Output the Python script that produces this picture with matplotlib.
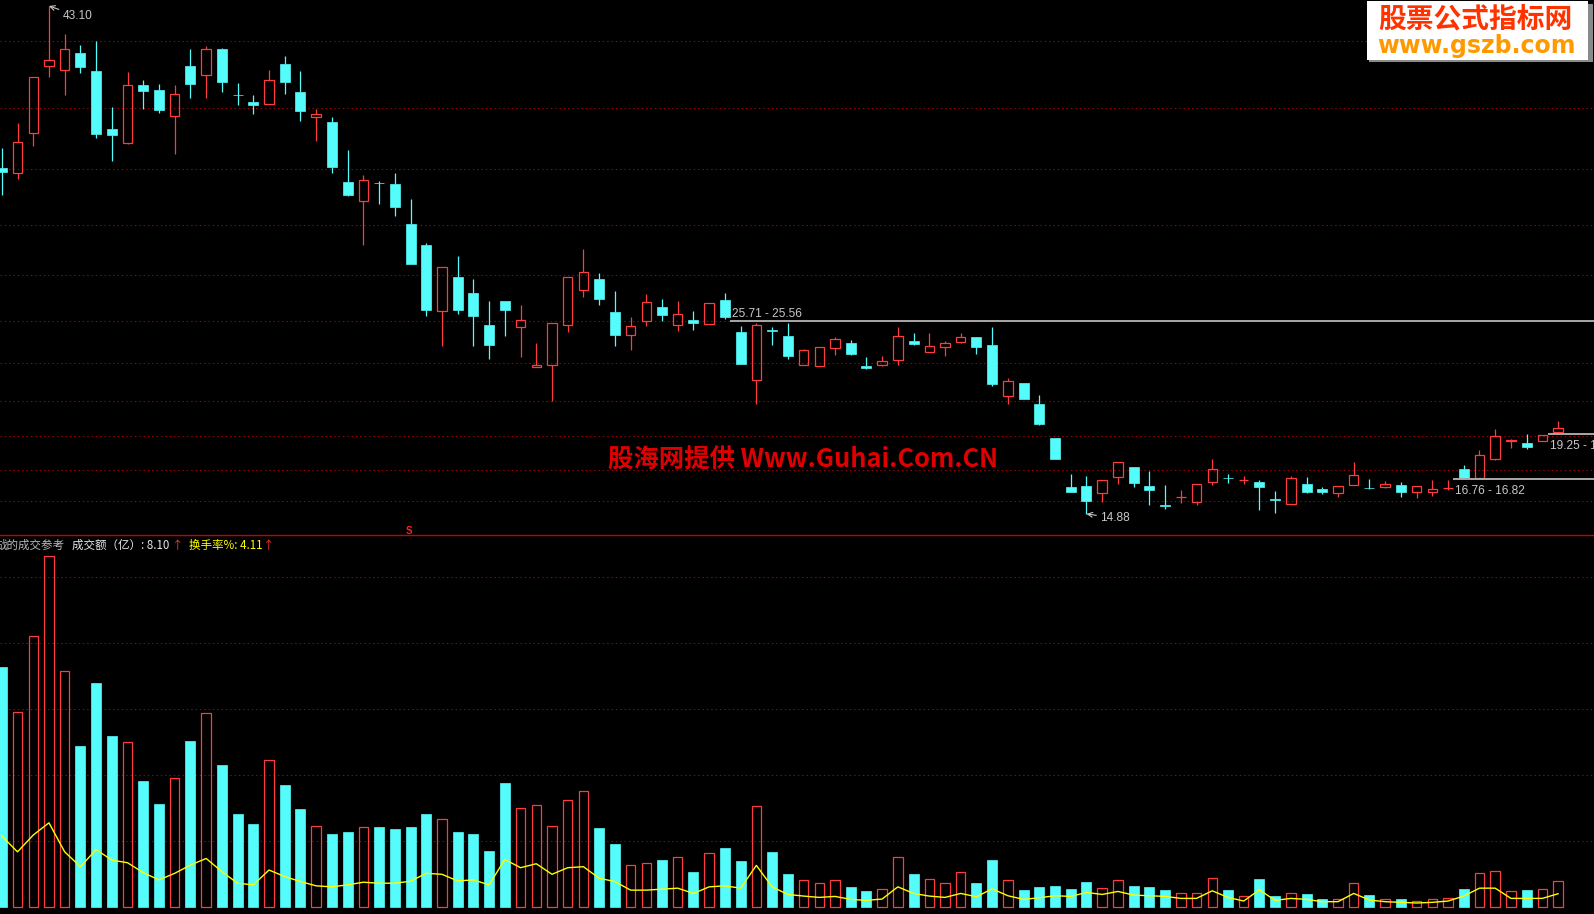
import matplotlib
matplotlib.use("Agg")
import matplotlib.pyplot as plt
from matplotlib.patches import Rectangle
from matplotlib.lines import Line2D

# ---------------- data ----------------
opens = [34.10, 33.81, 36.03, 39.75, 39.53, 40.49, 39.49, 36.27, 35.51, 38.71,
         38.43, 36.97, 39.77, 39.25, 40.71, 38.15, 37.77, 37.67, 39.88, 38.32,
         36.95, 36.66, 33.32, 32.28, 33.26, 33.21, 30.99, 29.82, 26.14, 28.04,
         27.16, 25.38, 26.71, 25.25, 23.06, 23.14, 25.36, 27.34, 27.93, 26.10,
         24.81, 25.58, 26.38, 25.36, 25.66, 25.45, 26.77, 24.99, 22.34, 25.09,
         24.77, 23.17, 23.12, 24.12, 24.38, 23.08, 23.17, 23.45, 24.49, 23.89,
         24.14, 24.45, 24.71, 24.27, 21.46, 22.16, 20.99, 19.10, 16.38, 16.43,
         16.06, 16.95, 17.49, 16.43, 15.37, 15.80, 15.56, 16.67, 16.89, 16.76,
         16.66, 15.69, 15.45, 16.54, 16.27, 16.03, 16.51, 16.35, 16.39, 16.49,
         16.08, 16.10, 16.33, 17.38, 16.88, 17.93, 18.96, 18.82, 18.92, 19.45]
highs = [35.21, 36.58, 39.14, 43.10, 41.54, 40.93, 41.16, 37.49, 39.43, 38.99,
         38.77, 38.71, 40.71, 40.88, 40.75, 38.82, 38.16, 39.54, 40.32, 39.49,
         37.39, 36.93, 35.10, 33.71, 33.36, 33.82, 32.38, 29.93, 28.58, 29.19,
         27.93, 26.71, 26.71, 26.49, 24.38, 25.47, 28.03, 29.60, 28.27, 27.27,
         25.82, 27.10, 26.82, 26.71, 26.16, 26.58, 27.16, 25.32, 25.47, 25.27,
         25.49, 24.03, 24.14, 24.71, 24.54, 23.60, 23.66, 25.27, 24.93, 24.93,
         24.49, 24.93, 24.71, 25.27, 22.42, 22.16, 21.49, 19.10, 17.10, 16.99,
         16.75, 17.75, 17.49, 17.27, 16.49, 16.21, 16.53, 17.93, 17.10, 16.99,
         16.77, 16.16, 16.99, 16.93, 16.38, 16.42, 17.77, 16.82, 16.71, 16.66,
         16.42, 16.77, 16.76, 17.60, 18.43, 19.60, 19.04, 19.32, 19.25, 20.04]
lows = [32.62, 33.51, 35.34, 39.17, 38.17, 39.39, 35.78, 34.51, 35.42, 37.39,
        37.17, 34.89, 38.01, 38.01, 38.34, 37.62, 37.12, 37.67, 38.21, 36.73,
        35.62, 33.84, 32.54, 29.82, 32.12, 31.45, 28.78, 25.89, 24.23, 26.01,
        24.23, 23.51, 24.78, 23.62, 23.06, 21.16, 25.01, 26.95, 26.51, 24.23,
        24.01, 25.34, 25.62, 25.06, 25.12, 25.45, 25.73, 23.21, 21.01, 24.27,
        23.49, 23.17, 23.12, 23.71, 23.71, 22.95, 23.10, 23.17, 24.28, 23.89,
        23.67, 24.39, 23.78, 22.01, 21.01, 21.27, 19.84, 17.93, 16.12, 14.88,
        15.56, 16.56, 16.39, 15.39, 15.17, 15.51, 15.39, 16.51, 16.62, 16.56,
        15.12, 14.95, 15.45, 16.06, 16.01, 15.84, 16.51, 16.27, 16.34, 15.84,
        15.78, 15.89, 16.21, 16.82, 16.82, 17.88, 18.56, 18.49, 18.92, 19.45]
closes = [33.89, 35.53, 39.14, 40.08, 40.69, 39.73, 36.01, 35.95, 38.69, 38.39,
          37.34, 38.19, 38.78, 40.69, 38.89, 38.13, 37.62, 38.97, 38.89, 37.28,
          37.10, 34.17, 32.62, 33.42, 33.24, 31.95, 28.78, 26.23, 28.58, 26.23,
          25.89, 24.28, 26.23, 25.64, 23.15, 25.47, 28.03, 28.31, 26.84, 24.84,
          25.31, 26.64, 25.95, 25.97, 25.51, 26.58, 25.84, 23.21, 25.38, 25.07,
          23.67, 23.97, 24.14, 24.58, 23.78, 22.99, 23.38, 24.77, 24.34, 24.19,
          24.36, 24.69, 24.17, 22.12, 22.25, 21.27, 19.89, 17.93, 16.12, 15.62,
          16.75, 17.75, 16.62, 16.23, 15.35, 15.82, 16.53, 17.38, 16.87, 16.78,
          16.39, 15.67, 16.88, 16.12, 16.12, 16.42, 17.04, 16.33, 16.53, 16.12,
          16.42, 16.27, 16.35, 16.89, 18.16, 19.21, 18.98, 18.62, 19.25, 19.66]
# 成交额（亿）
amount = [72.8, 59.1, 82.1, 106.5, 71.5, 48.9, 68.0, 51.9, 50.1, 38.3,
          31.3, 39.1, 50.4, 58.8, 43.1, 28.3, 25.2, 44.5, 37.1, 29.8,
          24.6, 22.2, 22.8, 24.3, 24.3, 23.7, 24.3, 28.3, 26.7, 22.8,
          22.2, 17.1, 37.7, 30.0, 30.9, 24.5, 32.4, 35.2, 24.0, 19.2,
          12.7, 13.3, 14.3, 15.2, 10.7, 16.4, 18.0, 14.0, 30.6, 16.8,
          10.1, 8.2, 7.3, 8.2, 6.2, 4.9, 5.5, 15.2, 10.1, 8.5,
          7.3, 10.6, 7.4, 14.3, 8.2, 5.2, 6.2, 6.5, 5.5, 7.7,
          5.8, 8.2, 6.5, 6.2, 5.2, 4.2, 4.2, 8.8, 5.2, 3.3,
          8.6, 3.4, 4.2, 4.0, 2.5, 2.4, 7.3, 3.7, 2.4, 2.5,
          1.9, 2.4, 2.7, 5.5, 10.3, 10.9, 4.8, 5.2, 5.5, 8.1]
# 换手率%
turnover = [21.6, 16.8, 21.9, 25.6, 16.8, 12.3, 17.5, 14.3, 13.5, 10.5,
            8.3, 10.3, 12.8, 14.8, 10.8, 7.3, 6.8, 11.3, 9.3, 7.8,
            6.5, 6.2, 6.8, 7.6, 7.3, 7.3, 7.9, 10.3, 10.0, 8.0,
            8.3, 6.8, 14.5, 12.0, 13.2, 10.0, 12.0, 12.3, 8.8, 7.8,
            5.2, 5.2, 5.5, 5.8, 4.2, 6.2, 6.5, 5.8, 12.7, 6.2,
            3.9, 3.4, 3.0, 3.3, 2.4, 2.1, 2.5, 6.2, 4.2, 3.4,
            3.0, 4.2, 3.2, 5.6, 3.5, 2.4, 2.9, 3.5, 3.3, 4.5,
            3.9, 4.8, 3.7, 3.5, 3.3, 2.7, 2.7, 5.0, 3.0, 1.9,
            5.3, 2.1, 2.7, 2.4, 1.7, 1.7, 4.2, 2.2, 1.7, 1.5,
            1.3, 1.5, 1.9, 3.4, 5.8, 5.8, 2.7, 2.7, 2.7, 4.11]
price_grid = [41.14, 37.42, 34.03, 30.92, 28.14, 25.58, 23.25, 21.14, 19.19, 17.31, 15.58]
amount_grid = [20, 40, 60, 80, 100]
gap_start = [46, 92, 98]
gap_level = [25.62, 16.81, 19.32]
gap_label = ["25.71 - 25.56", "16.76 - 16.82", "19.25 - 19.40"]
high_idx, high_label = 3, "43.10"
low_idx, low_label = 69, "14.88"
last_amount_label = "8.10"
last_turnover_label = "4.11"

# ---------------- style ----------------
W, H = 1594, 914
RED = '#ff3c3c'
CYAN = '#54fcfc'
GRID = '#a00000'
LBL = '#c8c8c8'
CJK = ['Noto Sans CJK SC', 'DejaVu Sans']
NUM = ['Liberation Sans', 'DejaVu Sans']
SEP = 535
X0, DX = 1.8, 15.72

fig = plt.figure(figsize=(W / 100, H / 100), dpi=100, facecolor='black')
ax = fig.add_axes([0, 1 - SEP / H, 1, SEP / H])
axv = fig.add_axes([0, 0, 1, 1 - SEP / H])
xlim = (-X0 / DX, (W - X0) / DX)
for a in (ax, axv):
    a.set_facecolor('black')
    a.set_xlim(*xlim)
    a.set_axis_off()
ax.set_ylim(43.10 - (SEP - 6) / 18.0, 43.10 + 6 / 18.0)
axv.set_ylim(-(914 - 907.3) / 3.3, (907.3 - SEP) / 3.3)

dots = (0, (1.3, 2.6))
ax.hlines(price_grid, xlim[0], xlim[1], colors=GRID, linestyles=[dots], lw=0.8, zorder=1)
axv.hlines(amount_grid, xlim[0], xlim[1], colors=GRID, linestyles=[dots], lw=0.8, zorder=1)

BW_RED = 0.60
BW_CY = 0.635
n = len(opens)
for i in range(n):
    o, h, l, c = opens[i], highs[i], lows[i], closes[i]
    up = c >= o
    col = RED if up else CYAN
    top, bot = max(o, c), min(o, c)
    if h > top:
        ax.vlines(i, top, h, colors=col, lw=0.9, zorder=2)
    if l < bot:
        ax.vlines(i, l, bot, colors=col, lw=0.9, zorder=2)
    if up:
        ax.add_patch(Rectangle((i - BW_RED / 2, bot), BW_RED, top - bot,
                               fill=False, ec=RED, lw=0.9, zorder=3))
        axv.add_patch(Rectangle((i - BW_RED / 2, 0), BW_RED, amount[i],
                                fill=False, ec=RED, lw=0.9, zorder=3))
    else:
        ax.add_patch(Rectangle((i - BW_CY / 2, bot), BW_CY, top - bot,
                               fc=CYAN, ec=CYAN, lw=0.5, zorder=3))
        axv.add_patch(Rectangle((i - BW_CY / 2, 0), BW_CY, amount[i],
                                fc=CYAN, ec=CYAN, lw=0.5, zorder=3))

axv.plot(range(n), turnover, color='#ffff00', lw=1.0, zorder=4)

# gap lines with labels
for k in range(len(gap_start)):
    x0 = gap_start[k] + 0.34
    ax.hlines(gap_level[k], x0, xlim[1], colors='#a8a8a8', lw=1.4, zorder=4)
    if k == 0:
        off = (2, 4)
    else:
        off = (2, -15)
    ax.annotate(gap_label[k], xy=(x0, gap_level[k]), xytext=off,
                textcoords='offset pixels', color=LBL, fontsize=8.6,
                family=NUM, ha='left', va='baseline', zorder=5,
                annotation_clip=False)

# high / low labels
ax.annotate(high_label, xy=(high_idx, highs[high_idx]), xytext=(14, -13),
            textcoords='offset pixels', color=LBL, fontsize=8.6, family=NUM,
            ha='left', va='baseline',
            arrowprops=dict(arrowstyle='->', color=LBL, lw=0.8,
                            shrinkA=1, shrinkB=0))
ax.annotate(low_label, xy=(low_idx, lows[low_idx]), xytext=(14, -7),
            textcoords='offset pixels', color=LBL, fontsize=8.6, family=NUM,
            ha='left', va='baseline',
            arrowprops=dict(arrowstyle='->', color=LBL, lw=0.8,
                            shrinkA=1, shrinkB=0))

# separator between panels
fig.add_artist(Line2D([0, 1], [1 - SEP / H, 1 - SEP / H], transform=fig.transFigure,
                      color='#c80000', lw=1.0))


def fx(x):
    return x / W


def fy(y):
    return 1 - y / H


fig.text(fx(409), fy(531), 'S', color='#ff2020', fontsize=7, fontweight='bold',
         ha='center', va='center', family=NUM)

# volume panel header (left part is clipped by the figure edge, as in the reference)
hy = fy(545)
fig.text(fx(-5), hy, '战的成交参考', color='#b8b8b8', fontsize=8.3, family=CJK,
         ha='left', va='center')
fig.text(fx(71.7), hy, '成交额（亿）: ' + last_amount_label, color='#e8e8e8',
         fontsize=8.3, family=CJK, ha='left', va='center')
fig.text(fx(172), hy, '↑', color='#ff3030', fontsize=8.3, family=CJK,
         ha='left', va='center')
fig.text(fx(189.3), hy, '换手率%: ' + last_turnover_label, color='#ffff00',
         fontsize=8.3, family=CJK, ha='left', va='center')
fig.text(fx(263), hy, '↑', color='#ff3030', fontsize=8.3, family=CJK,
         ha='left', va='center')

# center watermark
fig.text(fx(803), fy(460), '股海网提供 Www.Guhai.Com.CN', color='#e00000',
         fontsize=18.3, fontweight='bold', family=CJK, ha='center', va='center')

# top-right watermark box
fig.add_artist(Rectangle((fx(1369), fy(62)), (1593 - 1369) / W, (62 - 4) / H,
                         transform=fig.transFigure, fc='#8a8a8a', ec='none', zorder=5))
fig.add_artist(Rectangle((fx(1367), fy(60)), (1588 - 1367) / W, (60 - 1.5) / H,
                         transform=fig.transFigure, fc='white', ec='none', zorder=6))
fig.text(fx(1475), fy(20), '股票公式指标网', color='#ff3300', fontsize=20,
         fontweight='bold', family=CJK, ha='center', va='center', zorder=7)
fig.text(fx(1476), fy(53), 'www.gszb.com', color='#ff9900', fontsize=17,
         fontweight='bold', family=['DejaVu Sans'], ha='center', va='baseline', zorder=7)

fig.savefig('out.png', dpi=100, facecolor='black')
